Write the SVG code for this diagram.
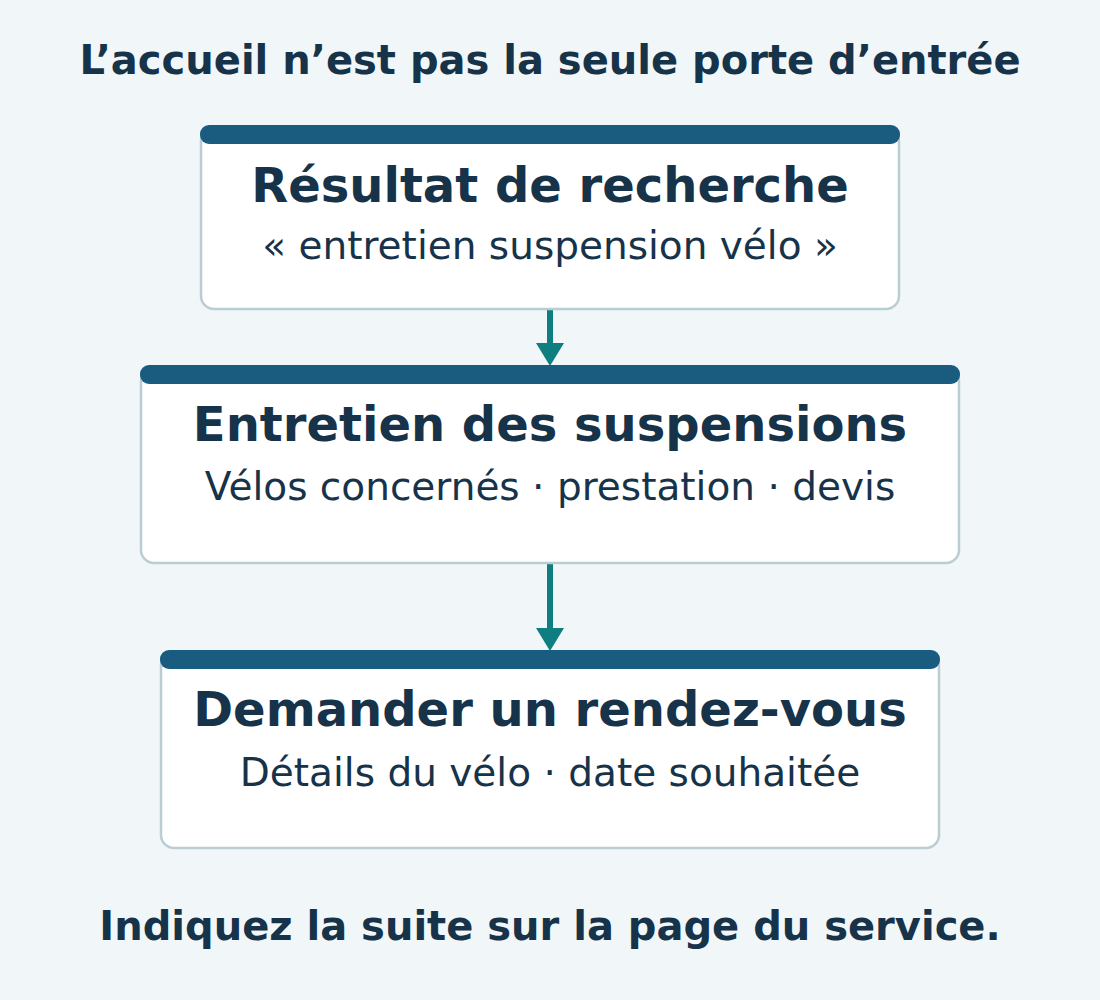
<svg xmlns="http://www.w3.org/2000/svg" width="1100" height="1000" viewBox="0 0 1100 1000">
<style>
.bg{fill:#f1f7f8}
.card{fill:#ffffff;stroke:#b9cdd3;stroke-width:2.5}
.bar{fill:#1a5b80}
.h{font-family:"DejaVu Sans",sans-serif;font-weight:bold;fill:#17334a;text-anchor:middle}
.t{font-family:"DejaVu Sans",sans-serif;font-weight:bold;font-size:48px;fill:#17334a;text-anchor:middle}
.s{font-family:"DejaVu Sans",sans-serif;font-size:39px;fill:#17334a;text-anchor:middle}
.conn{stroke:#0e7e80;stroke-width:6;fill:none}
.head{fill:#0e7e80}
</style>
<rect class="bg" x="0" y="0" width="1100" height="1000"/>
<text class="h" x="550" y="74" font-size="40">L’accueil n’est pas la seule porte d’entrée</text>
<g id="connectors">
<line class="conn" x1="550" y1="309" x2="550" y2="346"/>
<polygon class="head" points="536,343 564,343 550,366"/>
<line class="conn" x1="550" y1="563" x2="550" y2="631"/>
<polygon class="head" points="536,628 564,628 550,651"/>
</g>
<g id="node-resultat">
<rect class="card" x="201" y="128" width="698" height="181" rx="13"/>
<rect class="bar" x="200" y="125" width="700" height="19" rx="9"/>
<text class="t" x="550" y="202">Résultat de recherche</text>
<text class="s" x="550" y="259">« entretien suspension vélo »</text>
</g>
<g id="node-entretien">
<rect class="card" x="141" y="368" width="818" height="195" rx="13"/>
<rect class="bar" x="140" y="365" width="820" height="19" rx="9"/>
<text class="t" x="550" y="441">Entretien des suspensions</text>
<text class="s" x="550" y="500">Vélos concernés · prestation · devis</text>
</g>
<g id="node-rendezvous">
<rect class="card" x="161" y="653" width="778" height="195" rx="13"/>
<rect class="bar" x="160" y="650" width="780" height="19" rx="9"/>
<text class="t" x="550" y="726">Demander un rendez-vous</text>
<text class="s" x="550" y="786">Détails du vélo · date souhaitée</text>
</g>
<text class="h" x="550" y="940" font-size="40">Indiquez la suite sur la page du service.</text>
</svg>
